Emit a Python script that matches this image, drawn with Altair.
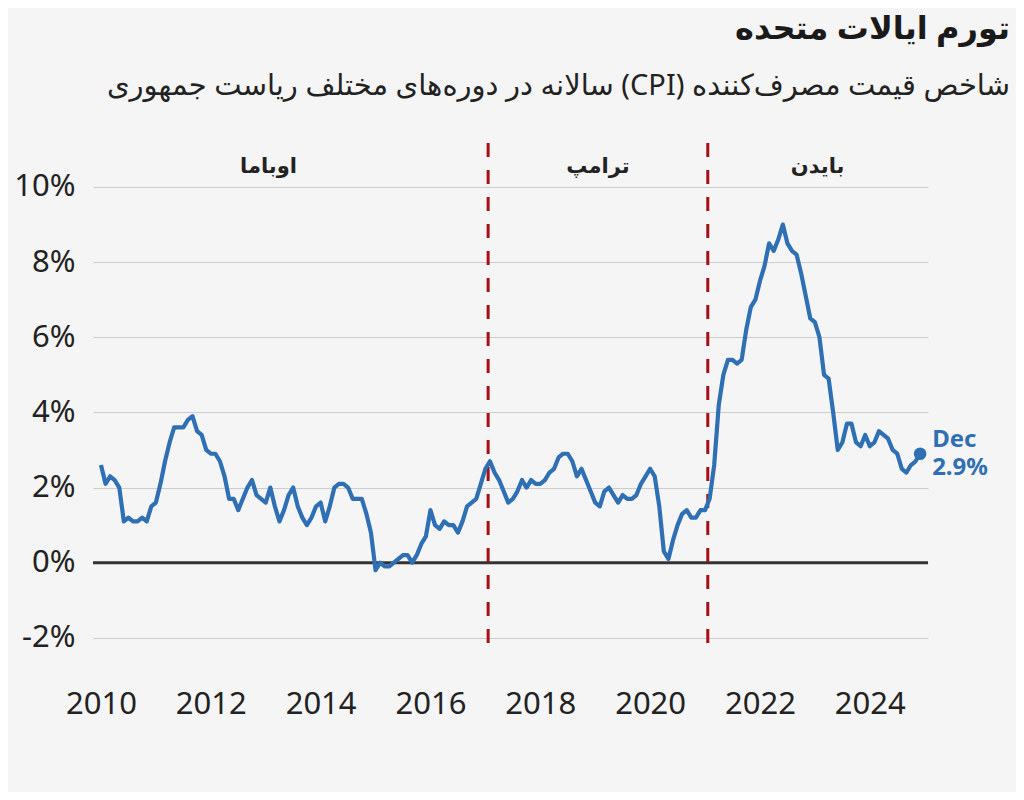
import altair as alt
import pandas as pd

years = list(range(2010, 2025))
cpi = [
    # 2010
    2.6, 2.1, 2.3, 2.2, 2.0, 1.1, 1.2, 1.1, 1.1, 1.2, 1.1, 1.5,
    # 2011
    1.6, 2.1, 2.7, 3.2, 3.6, 3.6, 3.6, 3.8, 3.9, 3.5, 3.4, 3.0,
    # 2012
    2.9, 2.9, 2.7, 2.3, 1.7, 1.7, 1.4, 1.7, 2.0, 2.2, 1.8, 1.7,
    # 2013
    1.6, 2.0, 1.5, 1.1, 1.4, 1.8, 2.0, 1.5, 1.2, 1.0, 1.2, 1.5,
    # 2014
    1.6, 1.1, 1.5, 2.0, 2.1, 2.1, 2.0, 1.7, 1.7, 1.7, 1.3, 0.8,
    # 2015
    -0.2, 0.0, -0.1, -0.1, 0.0, 0.1, 0.2, 0.2, 0.0, 0.2, 0.5, 0.7,
    # 2016
    1.4, 1.0, 0.9, 1.1, 1.0, 1.0, 0.8, 1.1, 1.5, 1.6, 1.7, 2.1,
    # 2017
    2.5, 2.7, 2.4, 2.2, 1.9, 1.6, 1.7, 1.9, 2.2, 2.0, 2.2, 2.1,
    # 2018
    2.1, 2.2, 2.4, 2.5, 2.8, 2.9, 2.9, 2.7, 2.3, 2.5, 2.2, 1.9,
    # 2019
    1.6, 1.5, 1.9, 2.0, 1.8, 1.6, 1.8, 1.7, 1.7, 1.8, 2.1, 2.3,
    # 2020
    2.5, 2.3, 1.5, 0.3, 0.1, 0.6, 1.0, 1.3, 1.4, 1.2, 1.2, 1.4,
    # 2021
    1.4, 1.7, 2.6, 4.2, 5.0, 5.4, 5.4, 5.3, 5.4, 6.2, 6.8, 7.0,
    # 2022
    7.5, 7.9, 8.5, 8.3, 8.6, 9.0, 8.5, 8.3, 8.2, 7.7, 7.1, 6.5,
    # 2023
    6.4, 6.0, 5.0, 4.9, 4.0, 3.0, 3.2, 3.7, 3.7, 3.2, 3.1, 3.4,
    # 2024
    3.1, 3.2, 3.5, 3.4, 3.3, 3.0, 2.9, 2.5, 2.4, 2.6, 2.7, 2.9,
]

president_names = ["اوباما", "ترامپ", "بایدن"]
president_label_x = [2013.05, 2019.05, 2023.05]
term_starts = [2017.05, 2021.05]

x_ticks = [2010, 2012, 2014, 2016, 2018, 2020, 2022, 2024]
y_ticks = [-2, 0, 2, 4, 6, 8, 10]

title_text = "تورم ایالات متحده"
subtitle_text = "شاخص قیمت مصرف‌کننده (CPI) سالانه در دوره‌های مختلف ریاست جمهوری"

RLE, PDF = "\u202b", "\u202c"

dates = [y + m / 12 for y in years for m in range(12)]
df = pd.DataFrame({"t": dates, "cpi": cpi})
last = df.tail(1).copy()
last["l1"] = "Dec"
last["l2"] = f"{cpi[-1]:.1f}%"

pres_df = pd.DataFrame({"x": president_label_x, "name": president_names})
terms_df = pd.DataFrame({"x": term_starts})
zero_df = pd.DataFrame({"y": [0]})

FONT = "Noto Sans, DejaVu Sans, sans-serif"
BLUE = "#2f6fb3"
RED = "#a50f15"

xs = alt.Scale(domain=[2009.855, 2025.06], nice=False, zero=False)
ys = alt.Scale(domain=[-2.27, 11.17], nice=False, zero=False)

xaxis = alt.Axis(values=x_ticks, format="d", title=None, grid=False, domain=False,
                 ticks=False, labelFontSize=31, labelPadding=41, labelColor="#222",
                 labelFont=FONT)
yaxis = alt.Axis(values=y_ticks, labelExpr="datum.value + '%'", title=None, grid=True,
                 gridColor="#cccccc", gridWidth=1.2, domain=False, ticks=False,
                 labelFontSize=31, labelPadding=18, labelColor="#222", labelFont=FONT)

base = alt.Chart(df)

line = base.mark_line(color=BLUE, strokeWidth=4.2, strokeJoin="round").encode(
    x=alt.X("t:Q", scale=xs, axis=xaxis),
    y=alt.Y("cpi:Q", scale=ys, axis=yaxis),
)

zero = alt.Chart(zero_df).mark_rule(color="#333333", strokeWidth=3).encode(
    y=alt.Y("y:Q", scale=ys)
)

terms = alt.Chart(terms_df).mark_rule(color=RED, strokeWidth=3, strokeDash=[14, 13]).encode(
    x=alt.X("x:Q", scale=xs)
)

plabels = alt.Chart(pres_df).mark_text(font=FONT, fontSize=21, fontWeight="bold",
                                        color="#222", baseline="middle").encode(
    x=alt.X("x:Q", scale=xs),
    y=alt.value(24),
    text="name:N",
)

dot = alt.Chart(last).mark_point(filled=True, size=160, color=BLUE, opacity=1).encode(
    x=alt.X("t:Q", scale=xs), y=alt.Y("cpi:Q", scale=ys)
)
lab1 = alt.Chart(last).mark_text(font=FONT, fontSize=24, fontWeight="bold", color=BLUE,
                                  align="left", dx=12, dy=-14).encode(
    x=alt.X("t:Q", scale=xs), y=alt.Y("cpi:Q", scale=ys), text="l1:N"
)
lab2 = alt.Chart(last).mark_text(font=FONT, fontSize=24, fontWeight="bold", color=BLUE,
                                  align="left", dx=12, dy=14).encode(
    x=alt.X("t:Q", scale=xs), y=alt.Y("cpi:Q", scale=ys), text="l2:N"
)

chart = alt.layer(zero, terms, line, plabels, dot, lab1, lab2).properties(
    width=835,
    height=505,
    autosize=alt.AutoSizeParams(type="none"),
    padding={"left": 85, "top": 135, "right": 88, "bottom": 144},
    background="#f5f5f5",
    title=alt.TitleParams(
        text=title_text,
        subtitle=RLE + subtitle_text + PDF,
        anchor="end",
        frame="group",
        dx=82,
        offset=40,
        font=FONT,
        fontSize=32,
        fontWeight="bold",
        color="#1a1a1a",
        subtitleFont=FONT,
        subtitleFontSize=29,
        subtitleColor="#222",
        subtitlePadding=26,
    ),
).configure_view(stroke=None)

chart.save("out.html", embed_options={"renderer": "svg", "actions": False})
